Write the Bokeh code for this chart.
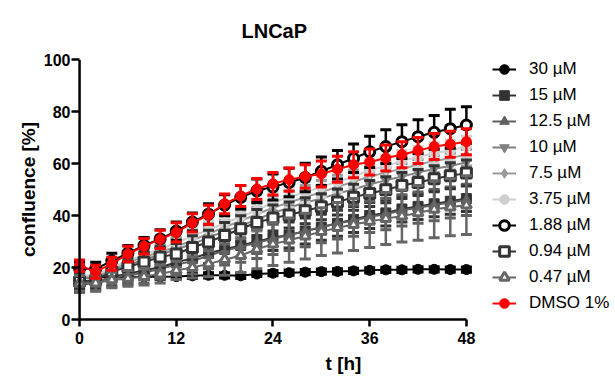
from bokeh.plotting import figure
from bokeh.models import Range1d, FixedTicker, Span, Legend
from bokeh.embed import file_html
from bokeh.resources import INLINE

# ---- data -------------------------------------------------------------
hours = [0, 2, 4, 6, 8, 10, 12, 14, 16, 18, 20, 22, 24, 26, 28, 30, 32, 34, 36, 38, 40, 42, 44, 46, 48]

labels = ["30 µM", "15 µM", "12.5 µM", "10 µM", "7.5 µM", "3.75 µM",
          "1.88 µM", "0.94 µM", "0.47 µM", "DMSO 1%"]

m_30 = [16.5, 16.3, 16.2, 16.3, 16.4, 16.4, 16.5, 16.8, 17.0, 17.0, 16.8, 17.5, 17.8,
        18.0, 18.2, 18.4, 18.5, 18.7, 18.9, 19.1, 19.1, 19.3, 19.3, 19.2, 19.2]
e_30 = [1.2, 1.0, 1.0, 1.0, 1.0, 1.0, 1.0, 1.0, 1.0, 1.0, 1.0, 1.0, 1.0,
        1.0, 1.0, 1.0, 1.0, 1.0, 1.0, 1.0, 1.0, 1.0, 1.0, 1.0, 1.0]

m_15 = [13.5, 14.0, 16.5, 17.5, 19.0, 20.0, 22.0, 23.5, 25.5, 27.0, 28.5, 30.0, 31.5,
        32.5, 34.0, 35.5, 37.0, 38.5, 40.0, 41.0, 42.5, 43.5, 44.5, 45.5, 46.5]
e_15 = [3, 3, 3.5, 3.5, 3.5, 3.5, 4, 4, 4, 4.5, 4.5, 4.5, 5,
        5, 5, 5, 5, 5, 5, 5, 5, 5, 5, 5, 5]

m_12_5 = [14.5, 14.5, 16.0, 17.0, 18.0, 19.5, 21.0, 22.5, 24.5, 26.5, 28.0, 29.5, 31.0,
          32.5, 34.0, 35.5, 37.0, 38.0, 39.5, 40.5, 42.0, 43.0, 44.0, 45.0, 46.0]
e_12_5 = [3, 3, 3.5, 3.5, 4, 4, 4, 5, 5, 5.5, 6, 6, 6,
          6, 6, 6, 6, 6, 6, 6, 6, 6, 6, 6, 6]

m_10 = [16, 16, 19, 21, 23, 25, 27, 29, 31.5, 34, 36, 38.5, 41,
        43, 45, 46.5, 48.5, 50, 52, 53.5, 55, 56.5, 58, 59, 60.5]
e_10 = [3, 3, 3, 3.5, 3.5, 3.5, 4, 4, 4, 4, 4.5, 4.5, 4.5,
        4.5, 4.5, 5, 5, 5, 5, 5, 5, 5, 5, 5, 5]

m_7_5 = [16.5, 16.5, 19.5, 22, 24, 26, 28, 30.5, 33, 35.5, 38, 40.5, 43,
         45, 47, 49, 51, 53, 55, 56.5, 58, 59.5, 61, 62, 63.5]
e_7_5 = [3, 3, 3, 3, 3.5, 3.5, 3.5, 4, 4, 4, 4, 4, 4.5,
         4.5, 4.5, 4.5, 4.5, 4.5, 4.5, 4.5, 4.5, 4.5, 4.5, 4.5, 4.5]

m_3_75 = [17, 17, 20, 22.5, 25, 27, 29.5, 32, 34.5, 37, 39.5, 42, 45,
          47, 49, 51, 53, 55, 57.5, 59, 61, 62.5, 64, 65, 66.5]
e_3_75 = [3, 3, 3, 3, 3, 3, 3.5, 3.5, 3.5, 3.5, 3.5, 3.5, 4,
          4, 4, 4, 4, 4, 4, 4, 4, 4, 4, 4, 4]

m_1_88 = [19.5, 19.5, 22.5, 25.5, 28.5, 31, 34, 37.5, 40.5, 44, 47, 49.5, 51,
          52.7, 54.6, 57, 59.5, 62, 64.5, 66.5, 68.4, 70.3, 72, 73.4, 74.8]
e_1_88 = [2.5, 2.5, 3, 3, 3, 3.5, 3.5, 3.5, 4, 4, 4.5, 4.5, 5,
          5.5, 5.5, 5.5, 5.5, 5.5, 6, 6.5, 6.5, 6.5, 6.5, 7.5, 7]

m_0_94 = [14.6, 15.2, 18.4, 20.2, 22.1, 24, 25.2, 27.7, 29.8, 32.3, 34.9, 37.3, 39,
          40.2, 41.8, 43.4, 45.2, 47, 48.5, 49.9, 51.5, 52.7, 54.1, 55.3, 56.3]
e_0_94 = [3, 3, 3.5, 3.5, 4, 4, 4, 4.5, 4.5, 5, 5, 5, 5,
          5, 5, 5, 5, 5, 5, 5, 5, 5, 5, 5, 5]

m_0_47 = [13.9, 14, 15.2, 15.8, 16.5, 17.5, 18.9, 20, 21.4, 23, 24.6, 27, 29,
          30.5, 32.1, 33.8, 35.3, 36.5, 37.7, 38.8, 39.8, 41, 42.4, 43.2, 44]
e_0_47 = [3, 3, 3, 3, 3.2, 3.5, 3.5, 4, 5, 6, 6.5, 7.5, 8.2,
          8.5, 8.8, 9.2, 9.7, 10, 10, 10, 10, 10.5, 11, 11, 11.3]

m_dmso = [20.7, 18.4, 21.4, 25.2, 28.2, 30.8, 33.5, 37.2, 40.2, 44.5, 47.5, 50.2, 52.2,
          53.8, 55, 56, 57.8, 59.5, 60.6, 62.1, 63.4, 65, 66.5, 67.4, 68.4]
e_dmso = [2.2, 2.5, 2.5, 3, 3, 3.5, 3.7, 3.5, 3.7, 3.8, 4, 4, 4.3,
          4.5, 4.5, 5, 5, 5, 5, 5, 5, 5, 5, 5, 5]

x_ticks = [0, 12, 24, 36, 48]
y_ticks = [0, 20, 40, 60, 80, 100]

means = [m_30, m_15, m_12_5, m_10, m_7_5, m_3_75, m_1_88, m_0_94, m_0_47, m_dmso]
errs = [e_30, e_15, e_12_5, e_10, e_7_5, e_3_75, e_1_88, e_0_94, e_0_47, e_dmso]

# ---- styles -----------------------------------------------------------
colors = ["#000000", "#333333", "#5f5f5f", "#808080", "#9a9a9a", "#cfcfcf",
          "#000000", "#333333", "#666666", "#ff0000"]
markers = ["circle", "square", "triangle", "inverted_triangle", "diamond", "circle",
           "circle", "square", "triangle", "circle"]
hollow = [False, False, False, False, False, False, True, True, True, False]

FONT = "Liberation Sans"

# frame spans to the right edge so that the legend can live inside it
p = figure(width=615, height=376, x_range=Range1d(-1, 66.5), y_range=Range1d(0, 100),
           output_backend="svg", toolbar_location=None,
           min_border_left=71, min_border_right=0, min_border_top=56, min_border_bottom=54)

p.title.text = "LNCaP"
p.title.align = "left"
p.title.offset = 170
p.title.text_font = FONT
p.title.text_font_size = "20px"
p.title.text_font_style = "bold"
p.title.text_color = "#000000"
p.title.standoff = 35

p.xgrid.visible = False
p.ygrid.visible = False
p.outline_line_color = None
p.background_fill_color = "white"
p.border_fill_color = "white"

for ax in (p.xaxis[0], p.yaxis[0]):
    ax.axis_line_width = 2.5
    ax.axis_line_color = "black"
    ax.major_tick_line_width = 2.5
    ax.major_tick_line_color = "black"
    ax.minor_tick_line_color = None
    ax.major_label_text_font = FONT
    ax.major_label_text_font_size = "16px"
    ax.major_label_text_font_style = "bold"
    ax.major_label_text_color = "black"
    ax.axis_label_text_font = FONT
    ax.axis_label_text_font_size = "19px"
    ax.axis_label_text_font_style = "bold"
    ax.axis_label_text_color = "black"

p.xaxis.ticker = FixedTicker(ticks=x_ticks)
p.yaxis.ticker = FixedTicker(ticks=y_ticks)
p.xaxis.bounds = (0, 48)
p.xaxis.major_tick_out = 7
p.xaxis.major_tick_in = 0
# y axis sits at the frame edge; ticks drawn inward to reach the x = 0 axis line
p.yaxis.axis_line_color = None
p.yaxis.major_tick_out = 0
p.yaxis.major_tick_in = 8
p.add_layout(Span(location=0, dimension="height", line_color="black", line_width=2.5))

p.xaxis.axis_label = "t [h]"
p.yaxis.axis_label = "confluence [%]"
p.xaxis.major_label_standoff = 5
p.yaxis.major_label_standoff = 1
p.xaxis.axis_label_standoff = 6
p.yaxis.axis_label_standoff = 2

items = []
for lab, m, e, c, mk, ho in zip(labels, means, errs, colors, markers, hollow):
    up = [a + b for a, b in zip(m, e)]
    lo = [a - b for a, b in zip(m, e)]
    p.segment(x0=hours, y0=lo, x1=hours, y1=up, line_color=c, line_width=2.5)
    p.scatter(x=hours, y=up, marker="dash", size=11, line_color=c, line_width=3)
    p.scatter(x=hours, y=lo, marker="dash", size=11, line_color=c, line_width=3)
    r_line = p.line(x=hours, y=m, line_color=c, line_width=2)
    if ho:
        r_mk = p.scatter(x=hours, y=m, marker=mk, size=10, fill_color="white", line_color=c,
                         line_width=3)
    else:
        r_mk = p.scatter(x=hours, y=m, marker=mk, size=10, fill_color=c, line_color=c,
                         line_width=1)
    items.append((lab, [r_line, r_mk]))

lg = Legend(items=items, location=(421, 3))
lg.padding = 0
lg.margin = 0
lg.spacing = 0
lg.glyph_width = 24
lg.glyph_height = 26
lg.label_height = 26
lg.label_standoff = 13
lg.label_text_font = FONT
lg.label_text_font_size = "17px"
lg.label_text_color = "black"
lg.border_line_color = None
lg.background_fill_alpha = 0
p.add_layout(lg, "center")

open("out.html", "w").write(file_html(p, INLINE))
